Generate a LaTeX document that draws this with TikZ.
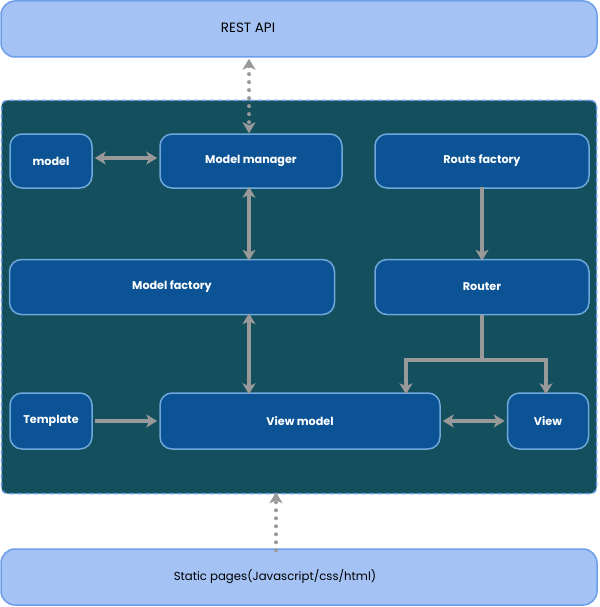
\documentclass[tikz,border=0pt]{standalone}
\usepackage{fontspec}
\setmainfont{Poppins}
\usetikzlibrary{arrows.meta}

\definecolor{apifill}{HTML}{A4C2F4}
\definecolor{apiline}{HTML}{6D9EEB}
\definecolor{framefill}{HTML}{134F5C}
\definecolor{boxfill}{HTML}{0B5394}
\definecolor{boxline}{HTML}{6FA8DC}
\definecolor{arrowgray}{HTML}{999999}

\tikzset{
	layer/.style={draw=apiline, fill=apifill, line width=1.5pt, rounded corners=14pt, text=black},
	part/.style={draw=boxline, fill=boxfill, line width=1.5pt, rounded corners=12pt, text=white, font=\fontsize{11.2}{13}\selectfont\bfseries},
	link/.style={draw=arrowgray, line width=4pt, -{Stealth[length=11pt, width=13pt, inset=3pt]}},
	biglink/.style={link, {Stealth[length=11pt, width=13pt, inset=3pt]}-{Stealth[length=11pt, width=13pt, inset=3pt]}},
	dotlink/.style={dash pattern=on 0pt off 8pt, line cap=round}
}

\begin{document}
\begin{tikzpicture}[x=1pt, y=-1pt]
		\useasboundingbox (0,0) rectangle (599,607);

		% outer layers
		\node [layer, minimum width=596pt, minimum height=56pt] at (299,29) (api) {};
		\node at (248,28) (apitext) {\fontsize{13.5}{15}\selectfont REST API};
		\node [layer, minimum width=596pt, minimum height=56pt] at (299,577) (static) {};
		\node at (275,577) (statictext) {\fontsize{11.7}{13}\selectfont Static pages(Javascript/css/html)};

		% client frame
		\node [draw=apiline, fill=framefill, line width=1.5pt, dash pattern=on 5pt off 3pt, rounded corners=6pt,
			minimum width=595pt, minimum height=393pt] at (299,297) (frame) {};

		% parts
		\node [part, minimum width=82pt, minimum height=54pt] at (51,161) (model) {model};
		\node [part, minimum width=182pt, minimum height=54pt] at (251,161) (manager) {Model manager};
		\node [part, minimum width=214pt, minimum height=54pt] at (482,161) (routs) {Routs factory};
		\node [part, minimum width=325pt, minimum height=55pt] at (172,287) (mfactory) {Model factory};
		\node [part, minimum width=214pt, minimum height=55pt] at (482,287) (router) {Router};
		\node [part, minimum width=82pt, minimum height=56pt] at (51,421) (template) {Template};
		\node [part, minimum width=280pt, minimum height=56pt] at (300,421) (vmodel) {View model};
		\node [part, minimum width=81pt, minimum height=56pt] at (548,421) (view) {View};

		\coordinate (split) at (482,360);

		\draw [biglink, dotlink] ([yshift=-1pt]api.south -| 249,0) -- (manager.north -| 249,0);
		\draw [biglink] ([xshift=2pt, yshift=3pt]model.east) -- ([xshift=-2pt, yshift=3pt]manager.west);
		\draw [biglink] ([yshift=2pt]manager.south -| 249,0) -- ([yshift=-2pt]mfactory.north -| 249,0);
		\draw [link] ([yshift=2pt]routs.south) -- ([yshift=-2pt]router.north);
		\draw [biglink] ([yshift=2pt]mfactory.south -| 249,0) -- ([yshift=-2pt]vmodel.north -| 249,0);
		\draw [link] ([xshift=2pt]template.east) -- ([xshift=-2pt]vmodel.west);
		\draw [biglink] ([xshift=2pt]vmodel.east) -- ([xshift=-2pt]view.west);
		\draw [draw=arrowgray, line width=4pt] (router.south) -- (split);
		\draw [link] (split) -| ([yshift=-2pt]vmodel.north -| 406,0);
		\draw [link] (split) -| ([yshift=-2pt]view.north -| 546,0);
		\draw [link, dotlink] ([yshift=-2pt]static.north -| 276,0) -- ([yshift=2pt]frame.south -| 276,0);

	\end{tikzpicture}
\end{document}
